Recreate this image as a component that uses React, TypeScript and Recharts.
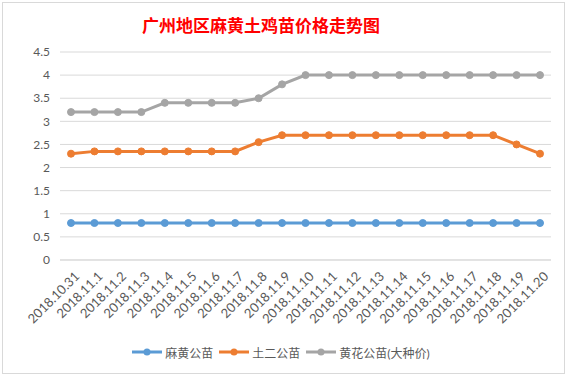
import React from "react";
import { LineChart, Line, XAxis, YAxis, CartesianGrid, Legend } from "recharts";

const dates = [
  "2018.10.31", "2018.11.1", "2018.11.2", "2018.11.3", "2018.11.4", "2018.11.5", "2018.11.6",
  "2018.11.7", "2018.11.8", "2018.11.9", "2018.11.10", "2018.11.11", "2018.11.12", "2018.11.13",
  "2018.11.14", "2018.11.15", "2018.11.16", "2018.11.17", "2018.11.18", "2018.11.19", "2018.11.20",
];
const mahuang = [0.8, 0.8, 0.8, 0.8, 0.8, 0.8, 0.8, 0.8, 0.8, 0.8, 0.8, 0.8, 0.8, 0.8, 0.8, 0.8, 0.8, 0.8, 0.8, 0.8, 0.8];
const tuer = [2.3, 2.35, 2.35, 2.35, 2.35, 2.35, 2.35, 2.35, 2.55, 2.7, 2.7, 2.7, 2.7, 2.7, 2.7, 2.7, 2.7, 2.7, 2.7, 2.5, 2.3];
const huanghua = [3.2, 3.2, 3.2, 3.2, 3.4, 3.4, 3.4, 3.4, 3.5, 3.8, 4, 4, 4, 4, 4, 4, 4, 4, 4, 4, 4];
const yTicks = [0, 0.5, 1, 1.5, 2, 2.5, 3, 3.5, 4, 4.5];

const seriesNames = ["麻黄公苗", "土二公苗", "黄花公苗(大种价)"];
const colors = ["#5b9bd5", "#ed7d31", "#a5a5a5"];

const data = dates.map((d, i) => ({ date: d, a: mahuang[i], b: tuer[i], c: huanghua[i] }));

const FONT = 'Lato, "Noto Sans CJK SC", sans-serif';

function DateTick({ x, y, payload }: any) {
  return (
    <g transform={`translate(${x + 6},${y + 6})`}>
      <text transform="rotate(-45)" textAnchor="end" dy="0.35em" fill="#595959" fontSize={13} fontFamily={FONT}>
        {payload.value}
      </text>
    </g>
  );
}

function LegendBox() {
  return (
    <div style={{ display: "flex", justifyContent: "center", alignItems: "center", fontFamily: FONT, fontSize: 12, color: "#595959", height: 16 }}>
      {seriesNames.map((n, i) => (
        <div key={n} style={{ display: "flex", alignItems: "center", marginRight: 6 }}>
          <svg width={30} height={10} style={{ marginRight: 3 }}>
            <line x1={0} y1={5} x2={30} y2={5} stroke={colors[i]} strokeWidth={3} />
            <circle cx={15} cy={5} r={3.5} fill={colors[i]} />
          </svg>
          <span>{n}</span>
        </div>
      ))}
    </div>
  );
}

export default function App() {
  return (
    <div style={{ position: "absolute", left: 0, top: 0, width: 568, height: 376, background: "#fff" }}>
      <div style={{ position: "absolute", left: 2, top: 2, width: 561, height: 370, border: "1px solid #d9d9d9" }} />
      <div
        style={{
          position: "absolute", left: 0, top: 12, width: 522, textAlign: "center",
          fontFamily: '"Noto Sans CJK SC", sans-serif', fontWeight: "bold", fontSize: 17, color: "#ff0000",
        }}
      >
        广州地区麻黄土鸡苗价格走势图
      </div>
      <div style={{ position: "absolute", left: 0, top: 0 }}>
        <LineChart width={568} height={376} data={data} margin={{ top: 52, right: 17, left: 0, bottom: 0 }}>
          <CartesianGrid stroke="#d9d9d9" vertical={false} />
          <XAxis
            dataKey="date"
            interval={0}
            tick={<DateTick />}
            tickLine={false}
            axisLine={{ stroke: "#d9d9d9" }}
            padding={{ left: 11, right: 11 }}
            height={100}
          />
          <YAxis
            domain={[0, 4.5]}
            ticks={yTicks}
            width={60}
            tickSize={0}
            tickMargin={10}
            axisLine={false}
            tickLine={false}
            tick={{ fill: "#595959", fontSize: 12, fontFamily: FONT }}
          />
          <Legend content={<LegendBox />} wrapperStyle={{ top: 344, left: 0, width: 568 }} />
          {["a", "b", "c"].map((k, i) => (
            <Line
              key={k}
              dataKey={k}
              name={seriesNames[i]}
              stroke={colors[i]}
              strokeWidth={3}
              dot={{ r: 3.5, fill: colors[i], stroke: colors[i], strokeWidth: 1 }}
              isAnimationActive={false}
            />
          ))}
        </LineChart>
      </div>
    </div>
  );
}
